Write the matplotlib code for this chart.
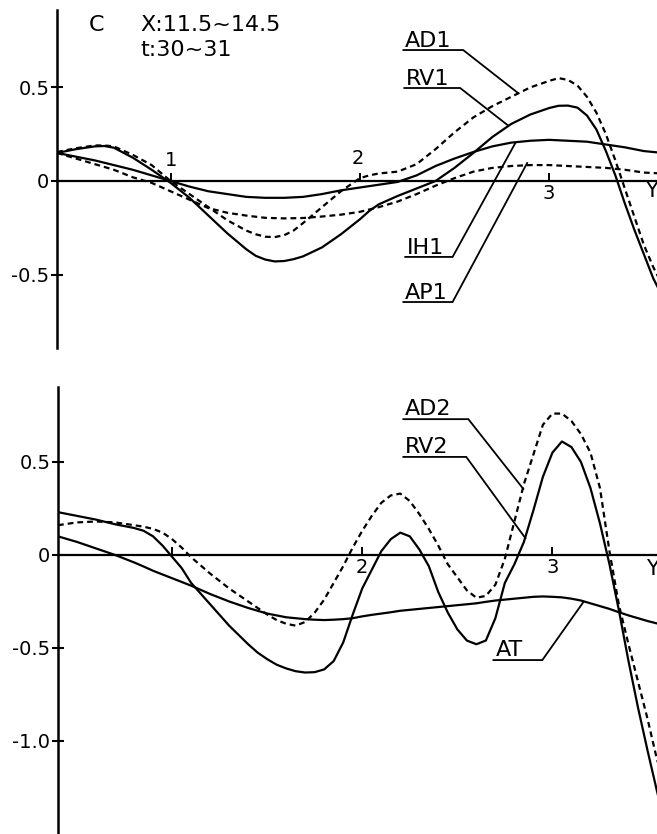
import matplotlib
matplotlib.use('Agg')
import matplotlib.pyplot as plt

# ── Data ─────────────────────────────────────────────────────────────────────
# upper panel, large curves (AD1 dashed, RV1 solid)
y_top_big = [0.4, 0.5, 0.6, 0.65, 0.7, 0.8, 0.9, 1.0, 1.1, 1.2, 1.3, 1.4, 1.45,
             1.5, 1.55, 1.6, 1.65, 1.7, 1.8, 1.9, 2.0, 2.05, 2.1, 2.2, 2.3, 2.4,
             2.5, 2.6, 2.7, 2.8, 2.9, 3.0, 3.05, 3.1, 3.15, 3.2, 3.25, 3.3, 3.35,
             3.4, 3.45, 3.5, 3.55, 3.6]
ad1 = [0.155, 0.175, 0.19, 0.19, 0.185, 0.14, 0.085, 0.0, -0.07, -0.14, -0.21,
       -0.265, -0.285, -0.298, -0.3, -0.29, -0.265, -0.225, -0.14, -0.055, 0.015,
       0.03, 0.04, 0.05, 0.09, 0.17, 0.26, 0.34, 0.40, 0.45, 0.50, 0.535, 0.55,
       0.54, 0.51, 0.45, 0.365, 0.25, 0.11, -0.04, -0.19, -0.34, -0.46, -0.56]
rv1 = [0.15, 0.17, 0.185, 0.187, 0.178, 0.125, 0.06, -0.01, -0.09, -0.185, -0.28,
       -0.365, -0.4, -0.42, -0.43, -0.428, -0.418, -0.403, -0.355, -0.285, -0.205,
       -0.16, -0.125, -0.08, -0.04, 0.0, 0.07, 0.15, 0.235, 0.305, 0.355, 0.39,
       0.402, 0.403, 0.392, 0.35, 0.275, 0.16, 0.03, -0.12, -0.26, -0.39, -0.52, -0.62]

# upper panel, small curves (IH1 solid, AP1 dashed)
y_top_small = [0.4, 0.5, 0.6, 0.7, 0.8, 0.9, 1.0, 1.1, 1.2, 1.3, 1.4, 1.5, 1.6,
               1.7, 1.8, 1.9, 2.0, 2.1, 2.2, 2.3, 2.4, 2.5, 2.6, 2.7, 2.8, 2.9,
               3.0, 3.1, 3.2, 3.3, 3.4, 3.5, 3.6]
ih1 = [0.15, 0.13, 0.11, 0.085, 0.06, 0.03, 0.0, -0.03, -0.055, -0.07, -0.085,
       -0.09, -0.09, -0.085, -0.07, -0.05, -0.035, -0.02, -0.005, 0.03, 0.08,
       0.12, 0.155, 0.185, 0.205, 0.215, 0.22, 0.215, 0.21, 0.195, 0.18, 0.16, 0.15]
ap1 = [0.15, 0.12, 0.09, 0.06, 0.02, -0.01, -0.055, -0.10, -0.145, -0.17, -0.185,
       -0.197, -0.20, -0.198, -0.19, -0.18, -0.165, -0.14, -0.11, -0.07, -0.025,
       0.015, 0.05, 0.07, 0.08, 0.085, 0.085, 0.08, 0.075, 0.07, 0.06, 0.045, 0.04]

# lower panel
y_bot = [0.4, 0.5, 0.6, 0.7, 0.8, 0.85, 0.9, 0.95, 1.0, 1.05, 1.1, 1.2, 1.3,
         1.4, 1.45, 1.5, 1.55, 1.6, 1.65, 1.7, 1.75, 1.8, 1.85, 1.9, 1.95, 2.0,
         2.05, 2.1, 2.15, 2.2, 2.25, 2.3, 2.35, 2.4, 2.45, 2.5, 2.55, 2.6, 2.65,
         2.7, 2.75, 2.8, 2.85, 2.9, 2.95, 3.0, 3.05, 3.1, 3.15, 3.2, 3.25, 3.3,
         3.35, 3.4, 3.45, 3.5, 3.55, 3.6]
ad2 = [0.16, 0.175, 0.18, 0.175, 0.16, 0.152, 0.14, 0.12, 0.085, 0.04, -0.012,
       -0.10, -0.18, -0.25, -0.285, -0.32, -0.35, -0.37, -0.38, -0.36, -0.31,
       -0.24, -0.15, -0.06, 0.04, 0.13, 0.21, 0.28, 0.32, 0.33, 0.29, 0.22, 0.14,
       0.05, -0.05, -0.12, -0.19, -0.23, -0.22, -0.16, -0.02, 0.18, 0.38, 0.54,
       0.70, 0.76, 0.76, 0.72, 0.65, 0.55, 0.36, 0.02, -0.27, -0.48, -0.68, -0.88,
       -1.10, -1.25]
rv2 = [0.23, 0.21, 0.19, 0.165, 0.145, 0.13, 0.10, 0.05, -0.01, -0.07, -0.15,
       -0.265, -0.38, -0.48, -0.525, -0.56, -0.59, -0.61, -0.625, -0.632, -0.63,
       -0.615, -0.57, -0.47, -0.32, -0.18, -0.08, 0.02, 0.085, 0.12, 0.10, 0.03,
       -0.06, -0.20, -0.31, -0.40, -0.46, -0.48, -0.46, -0.34, -0.15, -0.05, 0.07,
       0.24, 0.42, 0.55, 0.61, 0.58, 0.50, 0.36, 0.17, -0.05, -0.30, -0.57, -0.82,
       -1.05, -1.27, -1.48]
at = [0.10, 0.07, 0.035, 0.0, -0.04, -0.062, -0.085, -0.105, -0.125, -0.145,
      -0.165, -0.21, -0.25, -0.285, -0.30, -0.315, -0.325, -0.335, -0.34, -0.345,
      -0.348, -0.35, -0.348, -0.345, -0.34, -0.33, -0.322, -0.315, -0.308, -0.30,
      -0.295, -0.29, -0.285, -0.28, -0.275, -0.27, -0.265, -0.26, -0.252, -0.245,
      -0.24, -0.235, -0.23, -0.225, -0.223, -0.225, -0.228, -0.235, -0.245, -0.26,
      -0.275, -0.29, -0.308, -0.325, -0.34, -0.355, -0.368, -0.38]

TOP_TICKS = [0.5, 0, -0.5]
TOP_TICKLABELS = ['0.5', '0', '-0.5']
BOT_TICKS = [0.5, 0, -0.5, -1.0]
BOT_TICKLABELS = ['0.5', '0', '-0.5', '-1.0']

# ── Style ────────────────────────────────────────────────────────────────────
K = 'black'
LW = 1.6
DASH = (2.6, 1.8)
FS = 16

fig = plt.figure(figsize=(6.57, 8.34), dpi=100)
ax1 = fig.add_axes([57 / 657, 0.5827, 1 - 57 / 657, 0.4053])
ax2 = fig.add_axes([58 / 657, 0.0, 1 - 58 / 657, 0.536])


def style_axes(ax, xlim, ylim, yticks, ylabels):
    ax.set_xlim(*xlim)
    ax.set_ylim(*ylim)
    for s in ['top', 'right']:
        ax.spines[s].set_visible(False)
    ax.spines['bottom'].set_position(('data', 0))
    ax.spines['bottom'].set_linewidth(1.6)
    ax.spines['left'].set_linewidth(1.8)
    ax.set_xticks([1, 2, 3])
    ax.set_xticklabels([])
    ax.tick_params(axis='x', direction='in', length=6, width=1.4)
    ax.set_yticks(yticks)
    ax.set_yticklabels(ylabels, fontsize=14)
    ax.tick_params(axis='y', direction='inout', length=9, width=1.5, pad=1)
    ax.patch.set_alpha(0)


def leader(ax, name, x0, x1, yline, xend, yend, ybase):
    ax.plot([x0, x1, xend], [yline, yline, yend], color=K, lw=1.3,
            solid_joinstyle='miter', clip_on=False, zorder=5)
    ax.text(x0 + 0.01, ybase, name, fontsize=FS, ha='left', va='baseline', zorder=6)


# ── Upper panel ──────────────────────────────────────────────────────────────
style_axes(ax1, (0.4, 3.57), (-0.893, 0.914), TOP_TICKS, TOP_TICKLABELS)
ax1.plot(y_top_big, ad1, color=K, lw=LW, ls=(0, DASH))
ax1.plot(y_top_big, rv1, color=K, lw=LW)
ax1.plot(y_top_small, ih1, color=K, lw=LW)
ax1.plot(y_top_small, ap1, color=K, lw=LW, ls=(0, DASH))

ax1.text(1.0, 0.11, '1', fontsize=14, ha='center', va='center')
ax1.text(1.99, 0.12, '2', fontsize=14, ha='center', va='center')
ax1.text(3.0, -0.065, '3', fontsize=14, ha='center', va='center')
ax1.text(3.506, -0.055, 'Y', fontsize=15, ha='left', va='center')

leader(ax1, 'AD1', 2.23, 2.546, 0.70, 2.836, 0.47, 0.717)
leader(ax1, 'RV1', 2.235, 2.53, 0.497, 2.779, 0.30, 0.513)
leader(ax1, 'IH1', 2.24, 2.49, -0.406, 2.82, 0.20, -0.39)
leader(ax1, 'AP1', 2.23, 2.49, -0.647, 2.884, 0.096, -0.63)

fig.text(96 / 657, 1 - 25 / 834, 'C', fontsize=FS, ha='center', va='center')
fig.text(140 / 657, 1 - 25 / 834, 'X:11.5~14.5', fontsize=FS, ha='left', va='center')
fig.text(140 / 657, 1 - 50 / 834, 't:30~31', fontsize=FS, ha='left', va='center')

# ── Lower panel ──────────────────────────────────────────────────────────────
style_axes(ax2, (0.4, 3.55), (-1.5, 0.903), BOT_TICKS, BOT_TICKLABELS)
ax2.plot(y_bot, ad2, color=K, lw=LW, ls=(0, DASH))
ax2.plot(y_bot, rv2, color=K, lw=LW)
ax2.plot(y_bot, at, color=K, lw=LW)

ax2.text(2.0, -0.07, '2', fontsize=14, ha='center', va='center')
ax2.text(3.0, -0.07, '3', fontsize=14, ha='center', va='center')
ax2.text(3.49, -0.075, 'Y', fontsize=15, ha='left', va='center')

leader(ax2, 'AD2', 2.216, 2.558, 0.73, 2.847, 0.355, 0.75)
leader(ax2, 'RV2', 2.216, 2.547, 0.527, 2.858, 0.09, 0.546)
leader(ax2, 'AT', 2.69, 2.947, -0.565, 3.163, -0.253, -0.545)

fig.savefig('out.png', dpi=100, facecolor='white')
